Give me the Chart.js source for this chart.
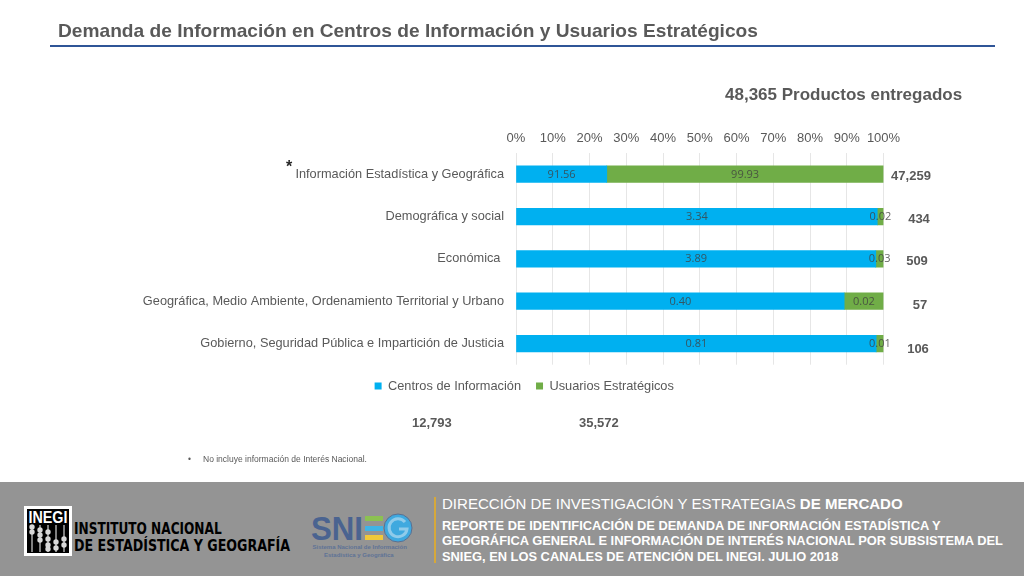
<!DOCTYPE html>
<html lang="es"><head><meta charset="utf-8">
<script src="https://cdn.jsdelivr.net/npm/chart.js@4"></script>
<style>
html,body{margin:0;padding:0;background:#fff;overflow:hidden}
#stage{position:relative;width:1024px;height:576px;font-family:"Liberation Sans",Arial,sans-serif}
canvas{position:absolute;left:0;top:0}
.t{position:absolute;white-space:nowrap;line-height:1}
.tot{font-weight:bold;font-size:13px;color:#595959;transform:translateX(-50%)}
</style></head><body><div id="stage">
<canvas id="c" width="1024" height="576"></canvas>
<div class="t" style="left:58px;top:21px;font-size:19.15px;font-weight:bold;color:#595959">Demanda de Información en Centros de Información y Usuarios Estratégicos</div>
<div style="position:absolute;left:50px;top:45px;width:945px;height:2px;background:#2f5597"></div>
<div class="t" style="left:725px;top:86px;font-size:17px;font-weight:bold;color:#595959">48,365 Productos entregados</div>
<div class="t" style="left:286px;top:159px;font-size:16px;font-weight:bold;color:#262626">*</div>
<div id="totals"></div>
<div class="t" style="left:412px;top:416px;font-size:13px;font-weight:bold;color:#595959" id="f1"></div>
<div class="t" style="left:579px;top:416px;font-size:13px;font-weight:bold;color:#595959" id="f2"></div>
<div class="t" style="left:188px;top:455px;font-size:8.5px;color:#595959">•</div>
<div class="t" style="left:203px;top:455px;font-size:8.5px;color:#595959">No incluye información de Interés Nacional.</div>
<div style="position:absolute;left:0;top:482px;width:1024px;height:94px;background:#949494"></div>
<svg style="position:absolute;left:24px;top:506px" width="48" height="50" viewBox="0 0 48 50">
<rect width="48" height="50" fill="#fff"/><rect x="3" y="3" width="42" height="44" fill="#000"/>
<text x="24" y="17" text-anchor="middle" font-family="Liberation Sans" font-weight="bold" font-size="17" fill="#fff" textLength="39" lengthAdjust="spacingAndGlyphs">INEGI</text>
<g stroke="#fff" stroke-width="1"><path d="M8 19V46M16 19V46M24 19V46M32 19V46M40 19V46"/></g>
<g fill="#d8d8d8"><circle cx="8" cy="21" r="2.7"/><circle cx="8" cy="26" r="2.7"/><circle cx="16" cy="24" r="2.7"/><circle cx="16" cy="29" r="2.7"/><circle cx="16" cy="34" r="2.7"/><circle cx="24" cy="26" r="2.7"/><circle cx="24" cy="33" r="2.7"/><circle cx="24" cy="39" r="2.7"/><circle cx="24" cy="43" r="2.7"/><circle cx="32" cy="36" r="2.7"/><circle cx="32" cy="42" r="2.7"/><circle cx="40" cy="33" r="2.7"/><circle cx="40" cy="39" r="2.7"/></g></svg>
<div class="t" style="left:74px;top:521px;font-family:'DejaVu Sans';font-size:16px;font-weight:bold;color:#000;transform-origin:left top;transform:scaleX(.758)">INSTITUTO NACIONAL</div>
<div class="t" style="left:74px;top:538px;font-family:'DejaVu Sans';font-size:16px;font-weight:bold;color:#000;transform-origin:left top;transform:scaleX(.79)">DE ESTADÍSTICA Y GEOGRAFÍA</div>
<svg style="position:absolute;left:305px;top:510px" width="110" height="36" viewBox="0 0 110 36">
<text x="6" y="30" font-family="Liberation Sans" font-weight="bold" font-size="33" fill="#4a6390" textLength="52" lengthAdjust="spacingAndGlyphs">SNI</text>
<rect x="60" y="6" width="18" height="5" fill="#8cc152"/><rect x="60" y="16" width="18" height="5" fill="#3fb4e6"/><rect x="60" y="25" width="18" height="5" fill="#f0c93a"/>
<circle cx="93" cy="18" r="14" fill="#3fa9df" stroke="#5c6f8f" stroke-width="1"/>
<path d="M100 12A9 9 0 1 0 102 19H94" fill="none" stroke="#8fcbea" stroke-width="3"/>
</svg>
<div class="t" style="left:312.5px;top:544px;font-size:6px;font-weight:bold;color:#5f7396">Sistema Nacional de Información</div>
<div class="t" style="left:324px;top:552px;font-size:6px;font-weight:bold;color:#5f7396">Estadística y Geográfica</div>
<div style="position:absolute;left:434px;top:497px;width:2px;height:66px;background:#d6a83a"></div>
<div class="t" style="left:442px;top:496px;font-size:15.05px;color:#fff">DIRECCIÓN DE INVESTIGACIÓN Y ESTRATEGIAS <b>DE MERCADO</b></div>
<div class="t" style="left:442px;top:520px;font-size:12.87px;font-weight:bold;color:#fff">REPORTE DE IDENTIFICACIÓN DE DEMANDA DE INFORMACIÓN ESTADÍSTICA Y</div>
<div class="t" style="left:442px;top:535px;font-size:12.87px;font-weight:bold;color:#fff">GEOGRÁFICA GENERAL E INFORMACIÓN DE INTERÉS NACIONAL POR SUBSISTEMA DEL</div>
<div class="t" style="left:442px;top:551px;font-size:12.87px;font-weight:bold;color:#fff">SNIEG, EN LOS CANALES DE ATENCIÓN DEL INEGI. JULIO 2018</div>
</div>
<script>
const categories=["Información Estadística y Geográfica","Demográfica y social","Económica ","Geográfica, Medio Ambiente, Ordenamiento Territorial y Urbano","Gobierno, Seguridad Pública e Impartición de Justicia"];
const seriesNames=["Centros de Información","Usuarios Estratégicos"];
const centrosShare=[24.7,98.3,97.9,89.3,98.0];
const usuariosShare=[75.3,1.7,2.1,10.7,2.0];
const centrosLabels=["91.56","3.34","3.89","0.40","0.81"];
const usuariosLabels=["99.93","0.02","0.03","0.02","0.01"];
const rowTotals=["47,259","434","509","57","106"];
const seriesTotals=["12,793","35,572"];
const totalCenters=[911,919,917,920,918];
const totalTops=[169,212,254,298,342];
const labelSets=[centrosLabels,usuariosLabels];

document.getElementById('f1').textContent=seriesTotals[0];
document.getElementById('f2').textContent=seriesTotals[1];
const tw=document.getElementById('totals');
rowTotals.forEach((s,i)=>{const d=document.createElement('div');d.className='t tot';d.style.left=totalCenters[i]+'px';d.style.top=totalTops[i]+'px';d.textContent=s;tw.appendChild(d);});

const segLabels={id:'segLabels',
 afterLayout(ch){ch.legend.left+=82.5;ch.legend.right+=82.5;},
 afterDatasetsDraw(ch){
  const g=ch.ctx;g.save();g.font='11px "Open Sans"';g.textAlign='center';g.textBaseline='middle';g.fillStyle='rgba(64,64,64,.8)';
  ch.data.datasets.forEach((ds,d)=>{ch.getDatasetMeta(d).data.forEach((el,i)=>{
    const p=el.getProps(['x','y','base'],true);
    g.fillText(labelSets[d][i],(p.x+p.base)/2,p.y+.5);
  });});g.restore();}};

new Chart(document.getElementById('c'),{type:'bar',plugins:[segLabels],
 data:{labels:categories,datasets:[
  {label:seriesNames[0],data:centrosShare,backgroundColor:'#00b0f0',barThickness:16.6},
  {label:seriesNames[1],data:usuariosShare,backgroundColor:'#70ad47',barThickness:16.6}]},
 options:{indexAxis:'y',responsive:false,animation:false,devicePixelRatio:1,
  layout:{padding:{left:0,right:140.5,top:0,bottom:173.5}},
  plugins:{tooltip:{enabled:false},
   legend:{position:'bottom',labels:{boxWidth:7,boxHeight:7,padding:15,color:'#595959',font:{family:'"Liberation Sans"',size:12.8}}}},
  scales:{
   x:{position:'top',stacked:true,min:0,max:100,
    ticks:{stepSize:10,maxRotation:0,autoSkip:false,color:'#595959',font:{family:'"Liberation Sans"',size:13},padding:7,callback:v=>v+'%'},
    grid:{color:'#e6e6e6',drawTicks:false},border:{display:false},
    afterFit(s){s.height=153;}},
   y:{stacked:true,
    ticks:{color:'#595959',font:{family:'"Liberation Sans"',size:12.77},padding:12,autoSkip:false},
    grid:{display:false,drawTicks:false},border:{display:false},
    afterFit(s){s.width=516;}}
  }}});
</script></body></html>
